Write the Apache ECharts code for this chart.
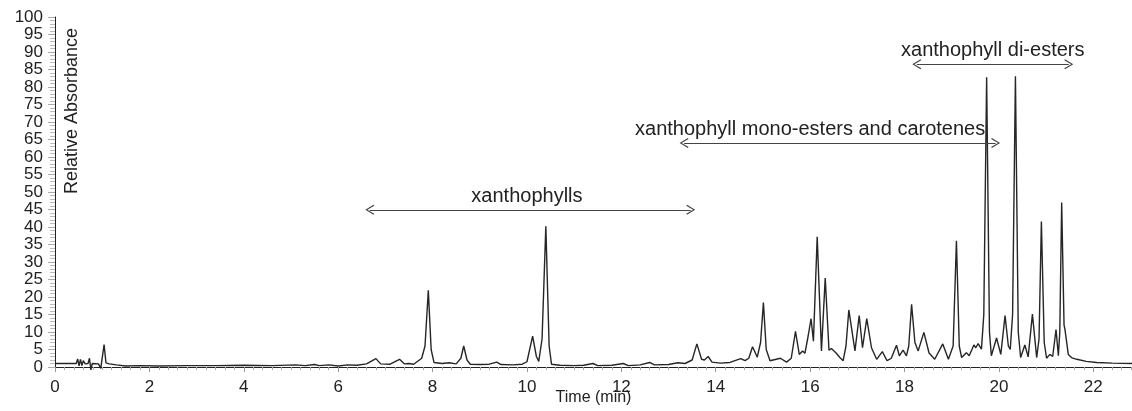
<!DOCTYPE html>
<html>
<head>
<meta charset="utf-8">
<title>Chromatogram</title>
<script src="https://cdn.jsdelivr.net/npm/echarts/dist/echarts.min.js"></script>
<style>
    html, body {margin: 0; padding: 0; background: #fff;}
    #chroma {width: 1132px; height: 411px;}
</style>
</head>
<body>
<div id="chroma"></div>
<script>
// trace: retention time (min) / relative absorbance
var timeMin = [
    0.00, 0.45, 0.48, 0.51, 0.54, 0.57, 0.60, 0.64, 0.70, 0.73, 0.76, 0.79, 0.92, 0.97, 1.00, 1.04, 1.08, 1.15, 1.30, 1.50,
    1.80, 2.20, 2.80, 3.40, 4.00, 4.60, 5.10, 5.30, 5.50, 5.60, 5.80, 6.00, 6.20, 6.40, 6.60, 6.80, 6.90, 7.10, 7.30, 7.40,
    7.50, 7.60, 7.77, 7.84, 7.91, 7.97, 8.03, 8.20, 8.35, 8.50, 8.60, 8.66, 8.73, 8.80, 9.00, 9.20, 9.36, 9.45, 9.70, 9.90,
    10.00, 10.12, 10.20, 10.25, 10.32, 10.40, 10.47, 10.52, 10.70, 11.00, 11.20, 11.40, 11.50, 11.80, 12.04, 12.15, 12.40, 12.60, 12.70, 13.00,
    13.20, 13.35, 13.50, 13.60, 13.70, 13.76, 13.84, 13.92, 14.10, 14.30, 14.53, 14.62, 14.70, 14.78, 14.88, 14.95, 15.01, 15.07, 15.15, 15.37,
    15.50, 15.60, 15.69, 15.77, 15.84, 15.89, 15.96, 16.02, 16.07, 16.15, 16.24, 16.32, 16.40, 16.45, 16.55, 16.63, 16.70, 16.76, 16.82, 16.95,
    17.04, 17.11, 17.20, 17.30, 17.41, 17.53, 17.63, 17.72, 17.83, 17.89, 17.97, 18.04, 18.09, 18.15, 18.22, 18.29, 18.41, 18.52, 18.64, 18.81,
    18.93, 19.03, 19.10, 19.16, 19.21, 19.31, 19.37, 19.47, 19.51, 19.56, 19.63, 19.68, 19.74, 19.80, 19.84, 19.95, 20.04, 20.13, 20.20, 20.24,
    20.29, 20.35, 20.41, 20.46, 20.55, 20.62, 20.71, 20.80, 20.85, 20.90, 20.96, 21.01, 21.08, 21.14, 21.21, 21.26, 21.29, 21.33, 21.38, 21.40,
    21.47, 21.55, 21.65, 21.85, 22.07, 22.40, 22.82
];
var absorbance = [
    1.0, 1.0, 2.3, 0.3, 2.2, 0.4, 1.8, 0.9, 1.0, 2.5, -0.8, 1.0, 0.9, -0.4, -0.2, 6.4, 1.2, 0.9, 0.6, 0.3,
    0.4, 0.3, 0.4, 0.4, 0.5, 0.4, 0.6, 0.4, 0.7, 0.4, 0.6, 0.3, 0.6, 0.5, 0.9, 2.4, 0.9, 0.8, 2.2, 0.9,
    1.0, 0.8, 2.5, 6.0, 21.9, 5.0, 1.3, 1.0, 1.2, 0.9, 2.5, 6.0, 2.0, 0.8, 0.7, 0.8, 1.4, 0.7, 0.6, 0.8,
    1.5, 8.8, 3.0, 1.6, 8.0, 40.2, 6.0, 0.8, 0.5, 0.4, 0.5, 1.0, 0.4, 0.5, 1.0, 0.4, 0.6, 1.3, 0.6, 0.7,
    1.2, 1.0, 2.0, 6.6, 2.2, 2.0, 3.0, 1.4, 1.1, 1.3, 2.4, 1.8, 2.5, 5.8, 2.8, 7.0, 18.4, 5.0, 1.8, 2.5,
    1.4, 2.5, 10.2, 3.6, 4.6, 3.9, 9.0, 13.8, 7.4, 37.2, 4.6, 25.4, 4.8, 5.3, 4.0, 2.7, 1.8, 6.0, 16.3, 4.6,
    14.7, 5.5, 13.8, 5.5, 2.2, 4.4, 1.8, 2.5, 6.2, 3.2, 4.8, 3.2, 6.0, 17.9, 7.0, 4.6, 9.9, 4.0, 2.2, 6.6,
    2.2, 6.0, 36.1, 6.0, 2.7, 4.1, 3.2, 6.3, 5.5, 6.7, 5.1, 15.0, 82.8, 10.0, 3.2, 8.3, 3.6, 14.7, 6.0, 5.0,
    15.0, 83.1, 10.0, 2.7, 6.3, 2.9, 15.1, 2.7, 8.0, 41.6, 7.0, 2.5, 3.6, 3.0, 10.7, 3.2, 10.0, 47.0, 12.0, 10.7,
    3.6, 2.6, 2.2, 1.6, 1.3, 1.1, 1.0
];

// annotated elution ranges (min) and the level they are drawn at
var rangeNames = ['xanthophylls', 'xanthophyll mono-esters and carotenes', 'xanthophyll di-esters'];
var rangeStart = [6.67, 13.33, 18.26];
var rangeEnd = [13.47, 19.93, 21.48];
var rangeLevel = [44.9, 64.0, 86.5];
var labelTime = [10.0, 16.0, 19.87];
var labelLevel = [48.6, 67.8, 90.3];

var chroma = echarts.init(document.getElementById('chroma'));

var font = '"Liberation Sans", Arial, sans-serif';
// open chevron pointing up, markLine turns it along the line
var openHead = 'path://M5,0 L10,8.6 L9,9.4 L5,2.2 L1,9.4 L0,8.6 Z';

var trace = [];
for (var i = 0; i < timeMin.length; i++) {
    trace.push([timeMin[i], absorbance[i]]);
}

var arrows = [];
var labels = [];
for (var k = 0; k < rangeNames.length; k++) {
    arrows.push([
        {coord: [rangeStart[k], rangeLevel[k]]},
        {coord: [rangeEnd[k], rangeLevel[k]]}
    ]);
    labels.push({name: rangeNames[k], coord: [labelTime[k], labelLevel[k]]});
}

chroma.setOption({
    animation: false,
    grid: {left: 55, right: 0, top: 17, bottom: 38},
    textStyle: {fontFamily: font},
    xAxis: {
        type: 'value',
        min: 0,
        max: 22.82,
        interval: 2,
        offset: 4,
        name: 'Time (min)',
        nameLocation: 'middle',
        nameGap: 19,
        nameMoveOverlap: false,
        nameTextStyle: {color: '#222', fontSize: 16, fontFamily: font},
        axisLine: {lineStyle: {color: '#222', width: 1}},
        axisTick: {length: 5, lineStyle: {color: '#999'}},
        minorTick: {show: true, splitNumber: 10, length: 3, lineStyle: {color: '#aaa'}},
        axisLabel: {color: '#222', fontSize: 17, margin: 8, fontFamily: font,
            showMaxLabel: false},
        splitLine: {show: false}
    },
    yAxis: {
        type: 'value',
        min: 0,
        max: 100,
        interval: 5,
        axisLine: {show: true, lineStyle: {color: '#222', width: 1}},
        axisTick: {show: true, length: 7, lineStyle: {color: '#aaa'}},
        minorTick: {show: true, splitNumber: 5, length: 5, lineStyle: {color: '#bbb'}},
        axisLabel: {color: '#222', fontSize: 17, margin: 12, fontFamily: font},
        splitLine: {show: false}
    },
    graphic: [
        {
            type: 'text',
            left: 63,
            top: 28,
            rotation: Math.PI / 2,
            style: {
                text: 'Relative Absorbance',
                fill: '#222',
                font: '18px ' + font
            }
        }
    ],
    series: [
        {
            type: 'line',
            data: trace,
            showSymbol: false,
            clip: false,
            lineStyle: {color: '#262626', width: 1.4},
            markLine: {
                silent: true,
                symbol: [openHead, openHead],
                symbolSize: [10, 9],
                lineStyle: {color: '#444', width: 1, type: 'solid'},
                label: {show: false},
                data: arrows
            },
            markPoint: {
                silent: true,
                symbolSize: 0,
                label: {
                    show: true,
                    position: 'inside',
                    formatter: '{b}',
                    color: '#222',
                    fontSize: 20,
                    fontFamily: font
                },
                data: labels
            }
        }
    ]
});
</script>
</body>
</html>
